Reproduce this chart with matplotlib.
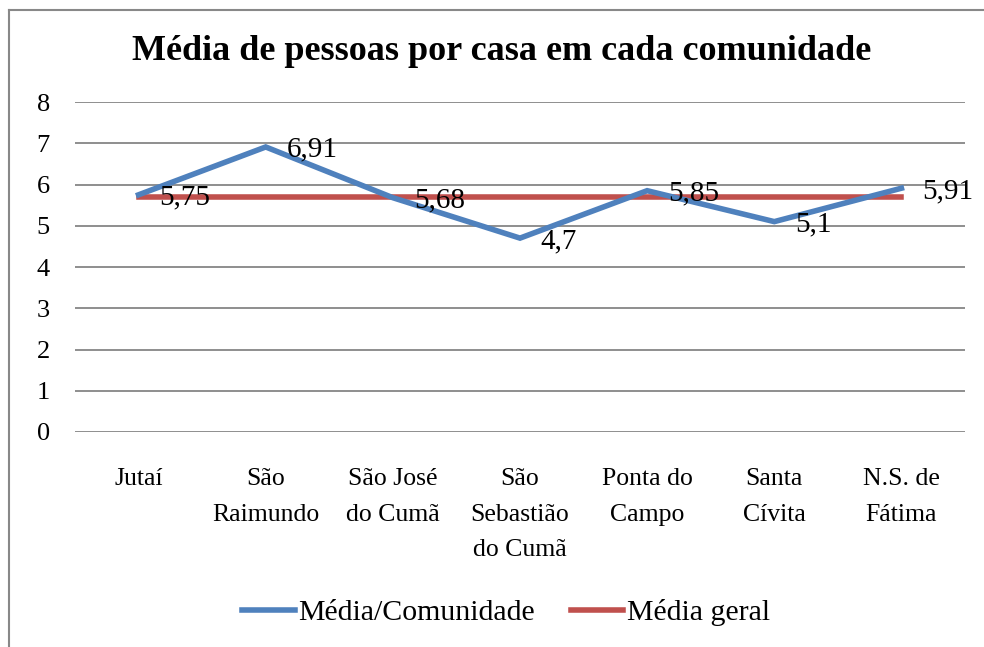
import matplotlib
matplotlib.use("Agg")
import matplotlib.pyplot as plt
from matplotlib.lines import Line2D

categories = ["Jutaí", "São\nRaimundo", "São José\ndo Cumã", "São\nSebastião\ndo Cumã",
              "Ponta do\nCampo", "Santa\nCívita", "N.S. de\nFátima"]
media_comunidade = [5.75, 6.91, 5.68, 4.7, 5.85, 5.1, 5.91]
labels_comunidade = ["5,75", "6,91", "5,68", "4,7", "5,85", "5,1", "5,91"]
media_geral = [5.7] * 7
yticks = [0, 1, 2, 3, 4, 5, 6, 7, 8]

plt.rcParams['font.family'] = ['Liberation Serif', 'DejaVu Serif']

W, H = 984, 647
fig = plt.figure(figsize=(W / 100, H / 100), dpi=100)
ax = fig.add_axes([75 / W, 1 - 432 / H, (965 - 75) / W, (432 - 102) / H])

x = list(range(len(categories)))
ax.plot(x, media_comunidade, color="#4F81BD", lw=4, label="Média/Comunidade", solid_joinstyle="miter", zorder=3)
ax.plot(x, media_geral, color="#C0504D", lw=4, label="Média geral", zorder=2)

for xi, yi, lab in zip(x, media_comunidade, labels_comunidade):
    ax.annotate(lab, (xi, yi), xytext=(15, -2), textcoords="offset points",
                ha="left", va="center", fontsize=21, zorder=4)

ax.set_xlim(-0.5, len(categories) - 0.5)
ax.set_ylim(0, 8)
ax.set_yticks(yticks)
ax.set_xticks(x)
ax.set_xticklabels(categories, fontsize=18.5, linespacing=1.8, va="top")
ax.tick_params(axis="y", labelsize=19, length=0, pad=18)
ax.tick_params(axis="x", length=0, pad=26)
ax.grid(axis="y", color="#868686", lw=1.3)
ax.set_axisbelow(True)
for s in ax.spines.values():
    s.set_visible(False)

fig.text(502 / W, 1 - 52 / H, "Média de pessoas por casa em cada comunidade",
         ha="center", va="center", fontsize=26, fontweight="bold")

leg = fig.legend(loc="center", bbox_to_anchor=(506 / W, 1 - 613 / H), ncol=2, frameon=False,
                 fontsize=21.5, handlelength=1.75, columnspacing=1.2, handletextpad=0.12)

fig.add_artist(Line2D([9 / W, 9 / W], [0, 1 - 10 / H], transform=fig.transFigure, color="#888888", lw=1.5))
fig.add_artist(Line2D([9 / W, 1], [1 - 10 / H, 1 - 10 / H], transform=fig.transFigure, color="#888888", lw=1.5))

fig.savefig("out.png", dpi=100)
